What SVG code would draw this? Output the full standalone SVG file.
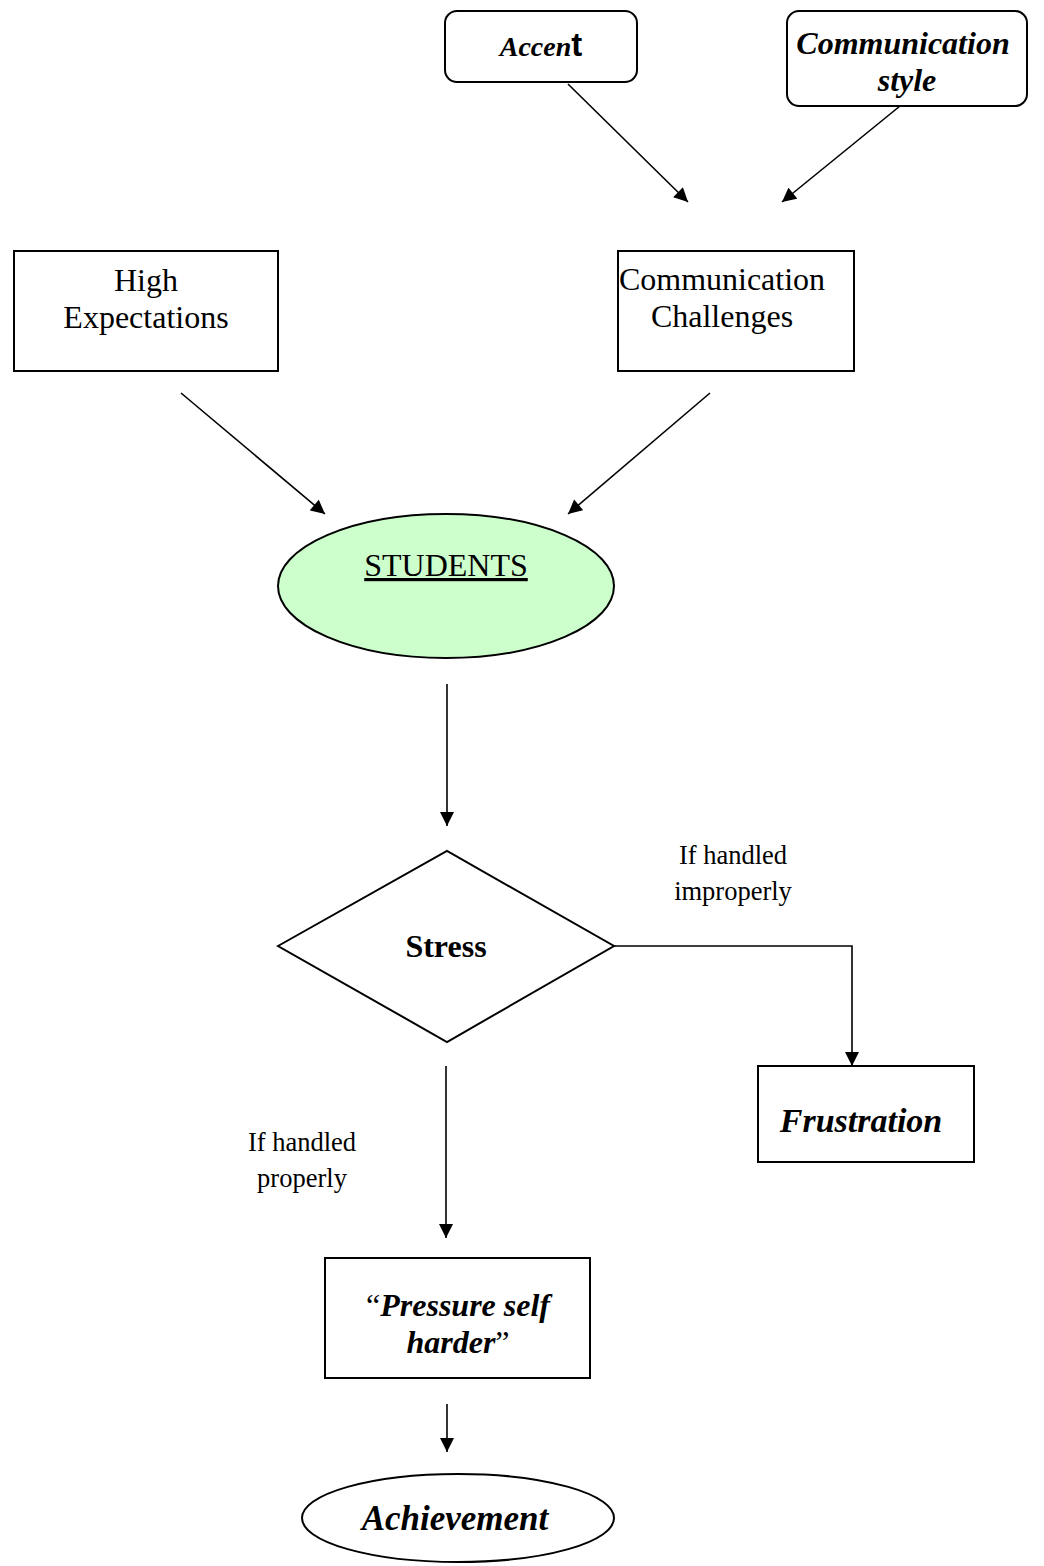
<svg xmlns="http://www.w3.org/2000/svg" width="1044" height="1566" viewBox="0 0 1044 1566">
<style>
.box{fill:#fff;stroke:#000;stroke-width:2}
.ln{fill:none;stroke:#000;stroke-width:1.6}
.t{font-family:"Liberation Serif","Times New Roman",serif;font-size:32px;fill:#000;text-anchor:middle}
.lb{font-size:26.5px}
.bi{font-weight:bold;font-style:italic}
</style>
<defs>
<marker id="ahb" viewBox="0 0 10 10" refX="10" refY="5" markerWidth="15" markerHeight="14" markerUnits="userSpaceOnUse" orient="auto">
<path d="M0,0 L10,5 L0,10 z" fill="#000"/>
</marker>
</defs>
<rect width="1044" height="1566" fill="#fff"/>
<g id="connectors">
<line class="ln" x1="568" y1="84" x2="688" y2="202" marker-end="url(#ahb)"/>
<line class="ln" x1="900" y1="106" x2="782" y2="202" marker-end="url(#ahb)"/>
<line class="ln" x1="181" y1="393" x2="325" y2="514" marker-end="url(#ahb)"/>
<line class="ln" x1="710" y1="393" x2="568" y2="514" marker-end="url(#ahb)"/>
<line class="ln" x1="447" y1="684" x2="447" y2="826" marker-end="url(#ahb)"/>
<polyline class="ln" points="614,946 852,946 852,1066" marker-end="url(#ahb)"/>
<line class="ln" x1="446" y1="1066" x2="446" y2="1238" marker-end="url(#ahb)"/>
<line class="ln" x1="447" y1="1404" x2="447" y2="1452" marker-end="url(#ahb)"/>
<text class="t lb" x="733" y="864">If handled</text>
<text class="t lb" x="733" y="900">improperly</text>
<text class="t lb" x="302" y="1151">If handled</text>
<text class="t lb" x="302" y="1187">properly</text>
</g>
<g id="accent">
<rect class="box" x="445" y="11" width="192" height="71" rx="12"/>
<text class="t bi" x="541" y="56" style="font-size:28px">Accen<tspan style="font-style:normal;font-family:'Liberation Sans',Arial,sans-serif;font-size:33px">t</tspan></text>
</g>
<g id="comm-style">
<rect class="box" x="787" y="11" width="240" height="95" rx="12"/>
<text class="t bi" x="903" y="54">Communication</text>
<text class="t bi" x="907" y="91">style</text>
</g>
<g id="high-expectations">
<rect class="box" x="14" y="251" width="264" height="120"/>
<text class="t" x="146" y="291">High</text>
<text class="t" x="146" y="328">Expectations</text>
</g>
<g id="comm-challenges">
<rect class="box" x="618" y="251" width="236" height="120"/>
<text class="t" x="722" y="290">Communication</text>
<text class="t" x="722" y="327">Challenges</text>
</g>
<g id="students">
<ellipse cx="446" cy="586" rx="168" ry="72" fill="#ccffcc" stroke="#000" stroke-width="2"/>
<text class="t" x="446" y="576" text-decoration="underline">STUDENTS</text>
</g>
<g id="stress">
<polygon class="box" points="278,946 447,851 614,946 447,1042"/>
<text class="t" x="446" y="957" font-weight="bold">Stress</text>
</g>
<g id="frustration">
<rect class="box" x="758" y="1066" width="216" height="96"/>
<text class="t bi" x="861" y="1132" style="font-size:34px">Frustration</text>
</g>
<g id="pressure">
<rect class="box" x="325" y="1258" width="265" height="120"/>
<text class="t" x="458" y="1316">“<tspan class="bi">Pressure self</tspan></text>
<text class="t" x="458" y="1353"><tspan class="bi">harder</tspan>”</text>
</g>
<g id="achievement">
<ellipse cx="458" cy="1518" rx="156" ry="44" fill="#fff" stroke="#000" stroke-width="2"/>
<text class="t bi" x="455" y="1530" style="font-size:35px">Achievement</text>
</g>
</svg>
